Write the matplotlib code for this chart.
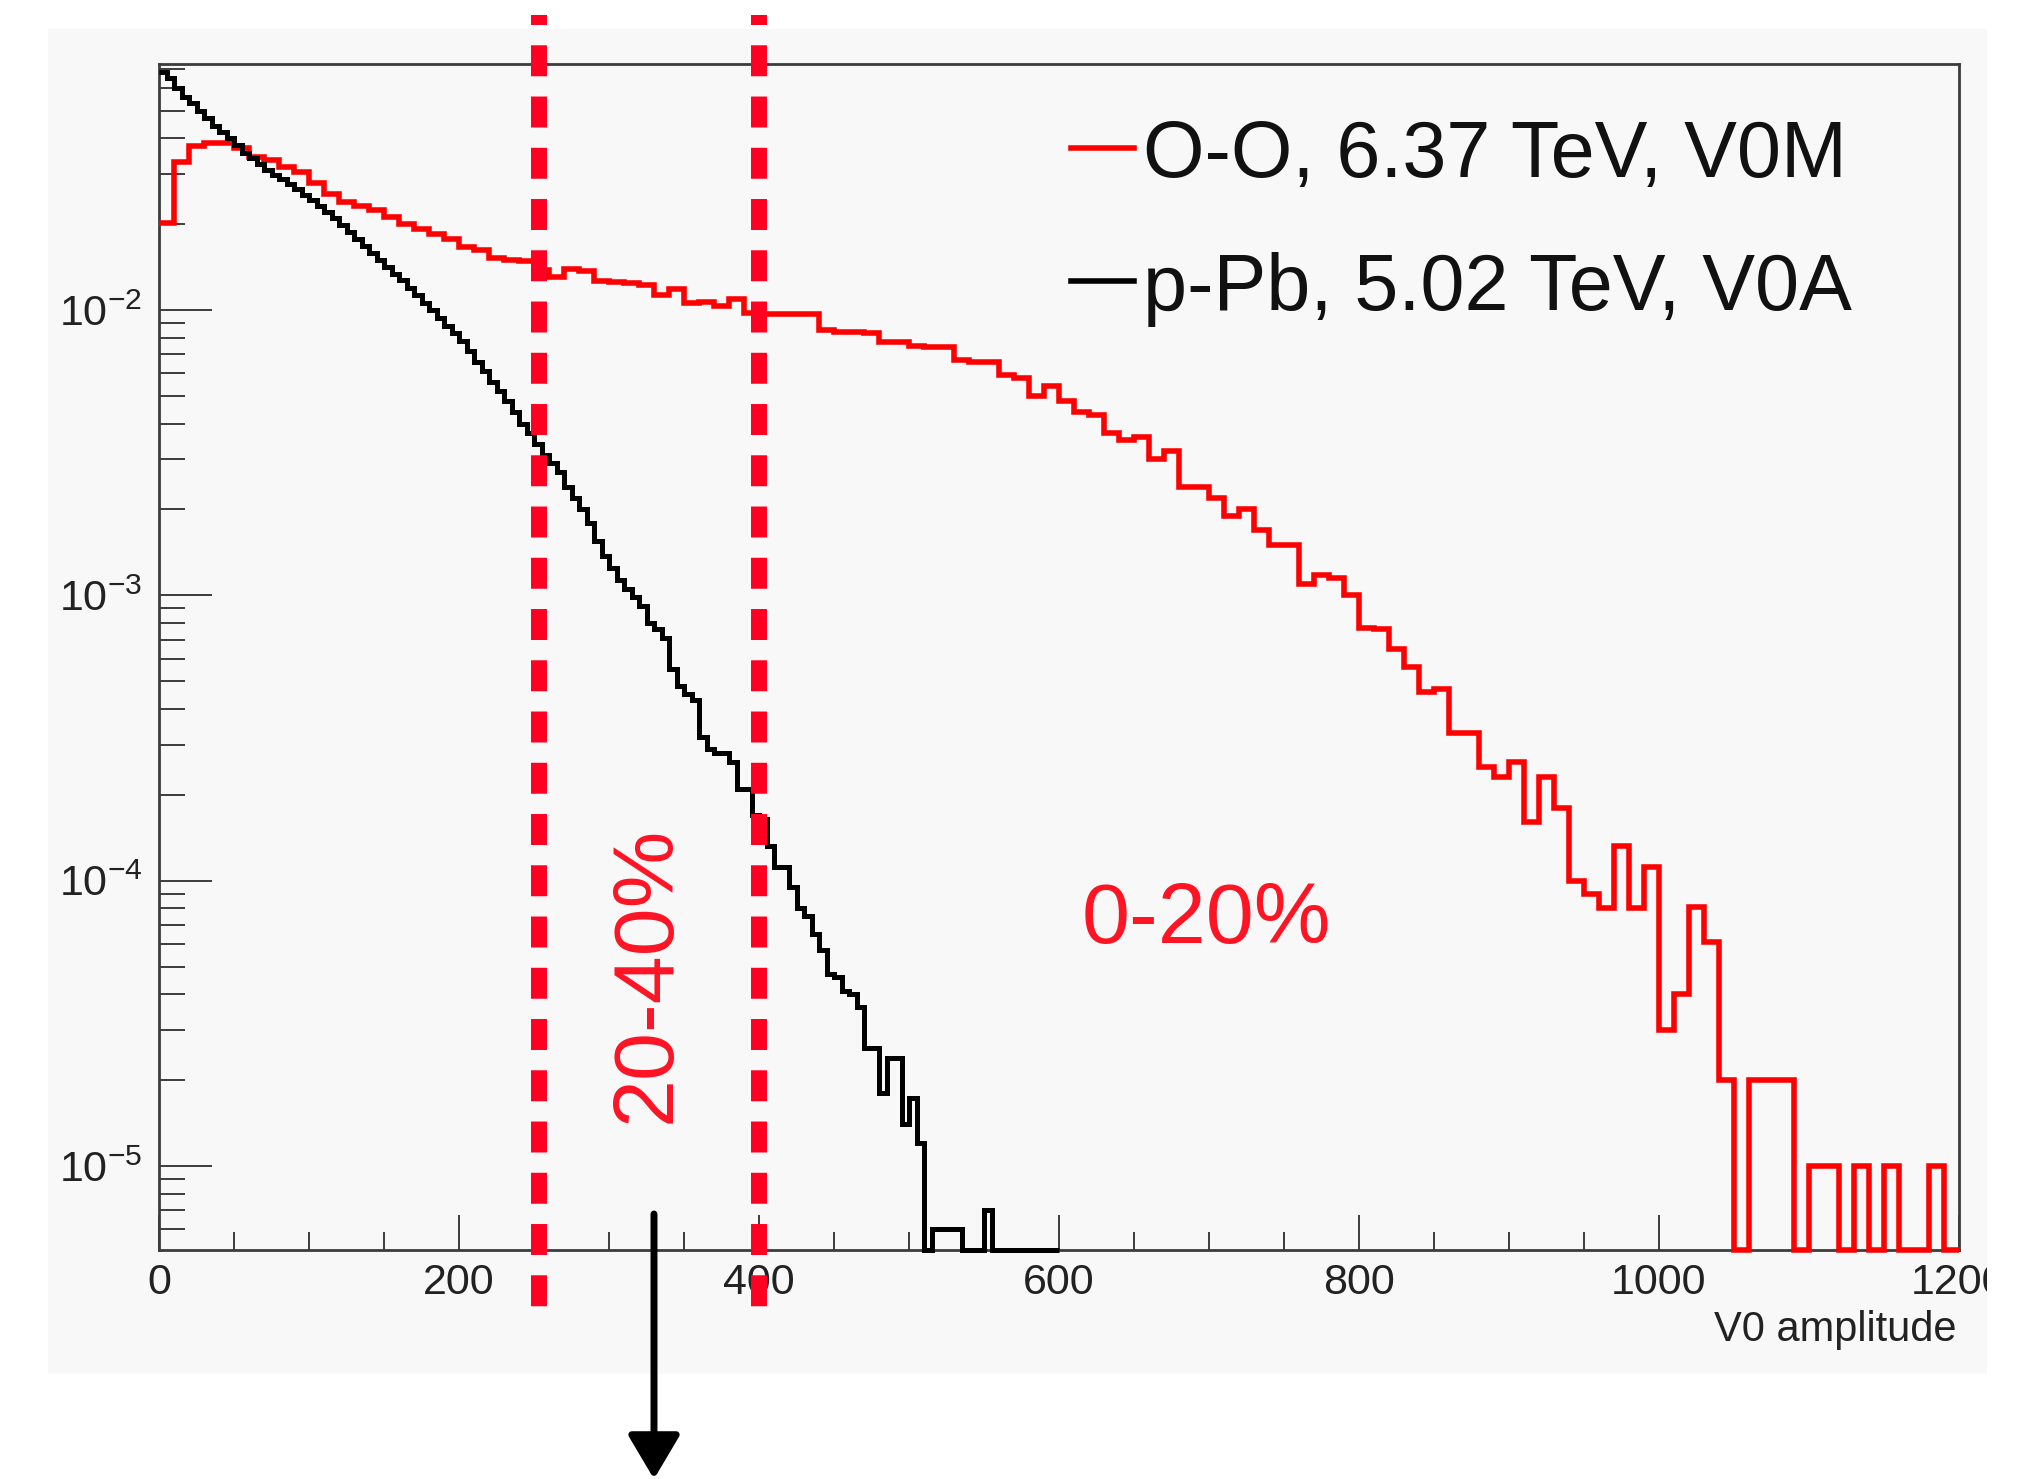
import numpy as np
import matplotlib
matplotlib.use("Agg")
import matplotlib.pyplot as plt
from matplotlib.patches import Rectangle
from matplotlib.lines import Line2D
from matplotlib.ticker import MultipleLocator, LogLocator, NullFormatter, LogFormatterMathtext

plt.rcParams["font.family"] = ["Liberation Sans", "DejaVu Sans"]
plt.rcParams["mathtext.fontset"] = "custom"
plt.rcParams["mathtext.rm"] = "Liberation Sans"
plt.rcParams["mathtext.it"] = "Liberation Sans:italic"
plt.rcParams["mathtext.bf"] = "Liberation Sans:bold"
plt.rcParams["lines.scale_dashes"] = False

# ---------------- data ----------------
# O-O, 6.37 TeV, V0M : normalised V0 amplitude distribution, 10-unit bins on [0, 1200]
oo_edges = np.arange(0, 1201, 10)
oo_values = [
    0.0202, 0.0331, 0.0375, 0.0385, 0.0385, 0.0370, 0.0345, 0.0335, 0.0318, 0.0305,   # 0-100
    0.0278, 0.0255, 0.0240, 0.0232, 0.0225, 0.0212, 0.0200, 0.0193, 0.0185, 0.0178,   # 100-200
    0.0166, 0.0162, 0.0152, 0.0150, 0.0149, 0.0138, 0.0131, 0.0139, 0.0137, 0.0126,   # 200-300
    0.0125, 0.0124, 0.0122, 0.0113, 0.0118, 0.0106, 0.0107, 0.0103, 0.0109, 0.0098,   # 300-400
    0.0097, 0.0097, 0.0097, 0.0097, 0.0085, 0.0084, 0.0084, 0.0083, 0.0077, 0.0077,   # 400-500
    0.0075, 0.0074, 0.0074, 0.0067, 0.0066, 0.0066, 0.0059, 0.0058, 0.0050, 0.0054,   # 500-600
    0.0048, 0.0044, 0.0043, 0.0037, 0.0035, 0.0036, 0.0030, 0.0032, 0.0024, 0.0024,   # 600-700
    0.0022, 0.0019, 0.0020, 0.0017, 0.0015, 0.0015, 0.0011, 0.00118, 0.00115, 0.0010,  # 700-800
    0.00077, 0.00076, 0.00065, 0.00056, 0.00046, 0.00047, 0.00033, 0.00033, 0.00025, 0.00023,  # 800-900
    0.00026, 0.00016, 0.00023, 0.00018, 0.00010, 0.00009, 0.00008, 0.000132, 0.00008, 0.000112,  # 900-1000
    0.00003, 0.00004, 0.000081, 0.000061, 0.00002, 0.0, 0.00002, 0.00002, 0.00002, 0.0,  # 1000-1100
    0.00001, 0.00001, 0.0, 0.00001, 0.0, 0.00001, 0.0, 0.0, 0.00001, 0.0,            # 1100-1200
]

# p-Pb, 5.02 TeV, V0A : normalised V0 amplitude distribution, 5-unit bins on [0, 600]
pb_edges = np.arange(0, 601, 5)
pb_values = [
    0.068, 0.065, 0.060, 0.056, 0.053, 0.050, 0.047, 0.044, 0.042, 0.040,             # 0-50
    0.038, 0.0355, 0.034, 0.0325, 0.031, 0.0298, 0.0288, 0.0277, 0.0265, 0.0252,      # 50-100
    0.0243, 0.0232, 0.0221, 0.0210, 0.0198, 0.0188, 0.0178, 0.0168, 0.0159, 0.0150,   # 100-150
    0.0142, 0.0134, 0.0127, 0.0119, 0.0113, 0.0106, 0.0100, 0.0094, 0.0088, 0.0083,   # 150-200
    0.0078, 0.0072, 0.0066, 0.0061, 0.0056, 0.0052, 0.0048, 0.0044, 0.0040, 0.0037,   # 200-250
    0.0034, 0.0031, 0.0029, 0.0027, 0.0024, 0.0022, 0.0020, 0.0018, 0.00155, 0.00137, # 250-300
    0.00125, 0.00113, 0.00105, 0.00099, 0.00092, 0.00080, 0.00076, 0.00071, 0.00055, 0.00048,  # 300-350
    0.00045, 0.00043, 0.00032, 0.00029, 0.00028, 0.00028, 0.00026, 0.00021, 0.00021, 0.00017,  # 350-400
    0.000165, 0.000132, 0.000112, 0.000112, 0.000095, 0.000080, 0.000075, 0.000065, 0.000057, 0.000047,  # 400-450
    0.000046, 0.000041, 0.000040, 0.000036, 0.000026, 0.000026, 0.000018, 0.000024, 0.000024, 0.000014,  # 450-500
    0.0000173, 0.000012, 0.0, 0.000006, 0.000006, 0.000006, 0.000006, 0.0, 0.0, 0.0,   # 500-550
    0.000007, 0.0, 0.0, 0.0, 0.0, 0.0, 0.0, 0.0, 0.0, 0.0,                              # 550-600
]

series_labels = ["O-O, 6.37 TeV, V0M", "p-Pb, 5.02 TeV, V0A"]
series_colors = ["#ff0000", "#000000"]
cut_positions = [253, 400]
class_labels = ["20-40%", "0-20%"]
x_ticks = [0, 200, 400, 600, 800, 1000, 1200]
x_title = "V0 amplitude"

assert len(oo_values) == len(oo_edges) - 1
assert len(pb_values) == len(pb_edges) - 1

# ---------------- figure ----------------
W, H = 2025, 1479
fig = plt.figure(figsize=(W / 100, H / 100), dpi=100, facecolor="white")


def fx(px):
    return px / W


def fy(py):
    return 1 - py / H


panel_color = "#f8f8f8"
fig.add_artist(Rectangle((fx(48), fy(1374)), fx(1987) - fx(48), fy(29) - fy(1374),
                         transform=fig.transFigure, facecolor=panel_color,
                         edgecolor="none", zorder=-10))

ax = fig.add_axes([fx(159), fy(1250), fx(1959) - fx(159), fy(64) - fy(1250)])
ax.set_facecolor(panel_color)
ax.set_yscale("log")
y_min, y_max = 5.08e-6, 0.0728
ax.set_xlim(0, 1200)
ax.set_ylim(y_min, y_max)

frame_color = "#3c3c3c"
for side in ["left", "bottom", "top", "right"]:
    ax.spines[side].set_color(frame_color)
    ax.spines[side].set_linewidth(2.0)

ax.xaxis.set_major_locator(MultipleLocator(200))
ax.xaxis.set_minor_locator(MultipleLocator(50))
ax.set_xticks(x_ticks)
ax.set_xticklabels([str(t) for t in x_ticks])
ax.yaxis.set_major_locator(LogLocator(base=10, numticks=20))
ax.yaxis.set_minor_locator(LogLocator(base=10, subs=np.arange(2, 10), numticks=50))
ax.yaxis.set_minor_formatter(NullFormatter())
ax.yaxis.set_major_formatter(LogFormatterMathtext())

ax.tick_params(axis="x", which="major", direction="in", length=25, width=1.4,
               color=frame_color, labelsize=31, pad=9, labelcolor="#222222")
ax.tick_params(axis="x", which="minor", direction="in", length=13, width=1.4,
               color=frame_color)
ax.tick_params(axis="y", which="major", direction="in", length=38, width=1.4,
               color=frame_color, labelsize=31, pad=12, labelcolor="#222222")
ax.tick_params(axis="y", which="minor", direction="in", length=19, width=1.4,
               color=frame_color)

# histograms; empty bins sit on the lower frame edge
oo_plot = np.maximum(np.asarray(oo_values), y_min)
pb_plot = np.maximum(np.asarray(pb_values), y_min)
ax.stairs(oo_plot, oo_edges, baseline=None, color=series_colors[0], lw=4.0,
          clip_on=False, zorder=3)
ax.stairs(pb_plot, pb_edges, baseline=None, color=series_colors[1], lw=3.6,
          clip_on=False, zorder=4)

# centrality class boundaries
cut_color = "#ff0022"
y_top_frac = (1250 - 15) / 1186
y_bot_frac = (1250 - 1322) / 1186
for xc in cut_positions:
    ax.plot([xc, xc], [y_top_frac, y_bot_frac], transform=ax.get_xaxis_transform(),
            color=cut_color, lw=11.5, linestyle=(15.1, (22.3, 14.6)),
            dash_capstyle="butt", clip_on=False, zorder=5)

label_color = "#ff1424"
ax.text(326, 4.7e-5, class_labels[0], rotation=90, ha="center", va="center",
        fontsize=62, color=label_color, zorder=6)
ax.text(698, 7.2e-5, class_labels[1], ha="center", va="center",
        fontsize=62, color=label_color, zorder=6)

# arrow below the axis
ax.annotate("", xy=(330, 0.0), xytext=(330, fy(1214)),
            xycoords=("data", "figure fraction"), textcoords=("data", "figure fraction"),
            arrowprops=dict(arrowstyle="-|>,head_length=27,head_width=16",
                            mutation_scale=1, lw=5.0, color="black",
                            shrinkA=0, shrinkB=0),
            annotation_clip=False)

# legend
legend_rows_y = [148, 281]
for label, color, ry in zip(series_labels, series_colors, legend_rows_y):
    fig.add_artist(Line2D([fx(1071), fx(1134)], [fy(ry), fy(ry)],
                          transform=fig.transFigure, color=color, lw=4.0))
    fig.text(fx(1143), fy(ry), label, ha="left", va="center_baseline",
             fontsize=57, color="#111111")

# axis title
fig.text(fx(1957), fy(1330), x_title, ha="right", va="center", fontsize=30,
         color="#222222")

# the area right of the panel stays blank
fig.add_artist(Rectangle((fx(1987), 0), 1 - fx(1987), 1, transform=fig.transFigure,
                         facecolor="white", edgecolor="none", zorder=20))

fig.savefig("out.png", dpi=100, facecolor="white")
